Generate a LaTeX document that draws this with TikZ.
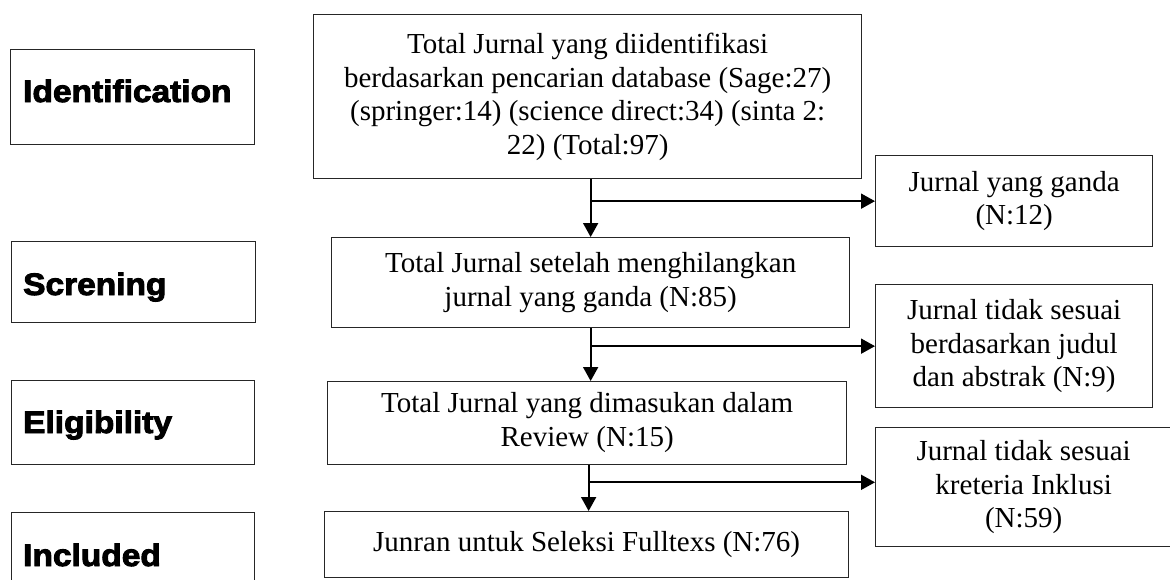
\documentclass[tikz,border=0pt]{standalone}
\usepackage{fontspec}
\setmainfont{Liberation Serif}
\newfontfamily\lblfont{Liberation Sans}[UprightFont=* Bold, FakeStretch=1.08, FakeBold=3]
\usetikzlibrary{arrows.meta,calc}
\begin{document}
\begin{tikzpicture}[x=1pt,y=-1pt,
  phasebox/.style={draw=black!85, line width=1.3pt, rectangle, anchor=north west, inner sep=0pt},
  phasetext/.style={anchor=base west, inner sep=0pt, font=\lblfont\fontsize{31}{36}\selectfont},
  flowbox/.style={draw=black!85, line width=1.3pt, rectangle, anchor=north west, align=center, inner sep=0pt,
    font=\fontsize{29}{33.5}\selectfont},
  arr/.style={line width=1.8pt, -{Triangle[length=14pt,width=15pt]}},
  conn/.style={line width=1.8pt}]
\useasboundingbox (0,0) rectangle (1170,579);
% phase boxes
\node[phasebox, minimum width=244pt, minimum height=95pt] (idbox) at (10,49) {};
\node[phasetext] (idlbl) at (23,102) {Identification};
\node[phasebox, minimum width=244pt, minimum height=81pt] (scbox) at (11,241) {};
\node[phasetext] (sclbl) at (23,295) {Screning};
\node[phasebox, minimum width=243pt, minimum height=84pt] (elbox) at (11,380) {};
\node[phasetext] (ellbl) at (23,433) {Eligibility};
\node[phasebox, minimum width=243pt, minimum height=90pt] (inbox) at (11,512) {};
\node[phasetext] (inlbl) at (23,566) {Included};
% main flow
\node[flowbox, minimum width=548pt, minimum height=164pt] (m1) at (313,14)
  {Total Jurnal yang diidentifikasi\\berdasarkan pencarian database (Sage:27)\\(springer:14) (science direct:34) (sinta 2:\\22) (Total:97)};
\node[flowbox, minimum width=518pt, minimum height=90pt] (m2) at (331,237)
  {Total Jurnal setelah menghilangkan\\jurnal yang ganda (N:85)};
\node[flowbox, minimum width=519pt, minimum height=83pt] (m3) at (327,381)
  {\raisebox{-4pt}{\begin{tabular}{@{}c@{}}Total Jurnal yang dimasukan dalam\\[0.5pt]Review (N:15)\end{tabular}}};
\node[flowbox, minimum width=524pt, minimum height=66pt] (m4) at (324,511)
  {\raisebox{3pt}{Junran untuk Seleksi Fulltexs (N:76)}};
% excluded
\node[flowbox, minimum width=277pt, minimum height=91pt] (r1) at (875,155)
  {Jurnal yang ganda\\(N:12)};
\node[flowbox, minimum width=277pt, minimum height=123pt] (r2) at (875,284)
  {Jurnal tidak sesuai\\berdasarkan judul\\dan abstrak (N:9)};
\node[flowbox, minimum width=296pt, minimum height=119pt] (r3) at (875,427)
  {Jurnal tidak sesuai\\kreteria Inklusi\\(N:59)};
% connectors
\draw[arr] (m1.south -| m2.north) -- (m2.north);
\draw[arr] (r1.west -| m2.north) -- (r1.west);
\draw[arr] (m2.south) -- (m2.south |- m3.north);
\draw[arr] (r2.west -| m2.south) -- (r2.west);
\coordinate (b3) at ($(m3.south)+(1.5,17)$);
\draw[arr] (m3.south -| b3) -- (b3 |- m4.north);
\draw[arr] (b3) -- (b3 -| r3.west);
\end{tikzpicture}
\end{document}
